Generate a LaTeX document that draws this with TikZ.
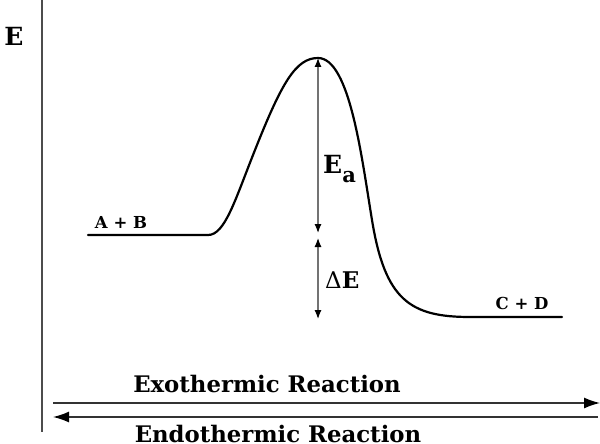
\documentclass[tikz,border=0pt]{standalone}
\usepackage{fontspec}
\setmainfont{DejaVu Serif}
\usetikzlibrary{arrows.meta}
\begin{document}
\begin{tikzpicture}[x=1pt,y=-1pt,font=\bfseries]
    \def\ablevel{235}
    \def\cdlevel{317}
    \tikzstyle{axis}=[draw=black!70,line width=1.6pt]
    \tikzstyle{curve}=[draw=black,line width=2.2pt,line cap=round]
    \tikzstyle{gap}=[draw=black!55,line width=1.2pt,{Latex[length=9pt,width=7pt,color=black]}-{Latex[length=9pt,width=7pt,color=black]}]
    \tikzstyle{reaction}=[draw=black!80,line width=1.4pt,-{Latex[length=16pt,width=11pt,color=black]}]
    \tikzstyle{species}=[font=\fontsize{16.5}{17}\bfseries\selectfont,inner sep=0pt,anchor=base]
    \tikzstyle{energy}=[font=\fontsize{25}{25}\bfseries\selectfont,inner sep=0pt,anchor=base west]
    \tikzstyle{annot}=[font=\fontsize{22.8}{23}\bfseries\selectfont,inner sep=0pt,anchor=base]

    \useasboundingbox (0,0) rectangle (600,444);

    % Draw the energy axis
    \coordinate (axis-top) at (42,0);
    \coordinate (axis-bot) at (42,432);
    \draw[axis] (axis-top) -- (axis-bot);
    \node[font=\fontsize{25}{25}\bfseries\selectfont,inner sep=0pt,anchor=base] (E) at (14,46) {E};

    % Draw the reaction profile
    \coordinate (ab-start) at (88,\ablevel);
    \coordinate (ab-end) at (208,\ablevel);
    \coordinate (peak) at (318,58);
    \coordinate (cd-start) at (470,\cdlevel);
    \coordinate (cd-end) at (562,\cdlevel);
    \draw[curve] (ab-start) -- (ab-end)
        .. controls (225,\ablevel) and (235,200) .. (255,150)
        .. controls (282,82) and (296,58) .. (peak)
        .. controls (350,58) and (362,160) .. (372,220)
        .. controls (385,300) and (410,\cdlevel) .. (cd-start) -- (cd-end);
    \node[species] (AB) at (121,228) {A + B};
    \node[species] (CD) at (522,309) {C + D};

    % Activation energy and energy change
    \coordinate (ea-bot) at (318,\ablevel-2);
    \coordinate (de-top) at (318,\ablevel+3);
    \coordinate (de-bot) at (318,\cdlevel+2);
    \draw[gap] (peak) -- (ea-bot);
    \draw[gap] (de-top) -- (de-bot);
    \node[energy] (Ea) at (323,173) {E\raisebox{-9pt}{\fontsize{21}{21}\selectfont a}};
    \node[energy,font=\fontsize{23}{23}\bfseries\selectfont] (dE) at (325,288) {{\mdseries Δ}E};

    % Draw the direction arrows
    \coordinate (exo-start) at (53,403);
    \coordinate (exo-end) at (600,403);
    \coordinate (endo-start) at (598,417);
    \coordinate (endo-end) at (53,417);
    \draw[reaction] (exo-start) -- (exo-end);
    \draw[reaction] (endo-start) -- (endo-end);
    \node[annot] (exo) at (267,392) {Exothermic Reaction};
    \node[annot] (endo) at (278,442) {Endothermic Reaction};
\end{tikzpicture}
\end{document}
